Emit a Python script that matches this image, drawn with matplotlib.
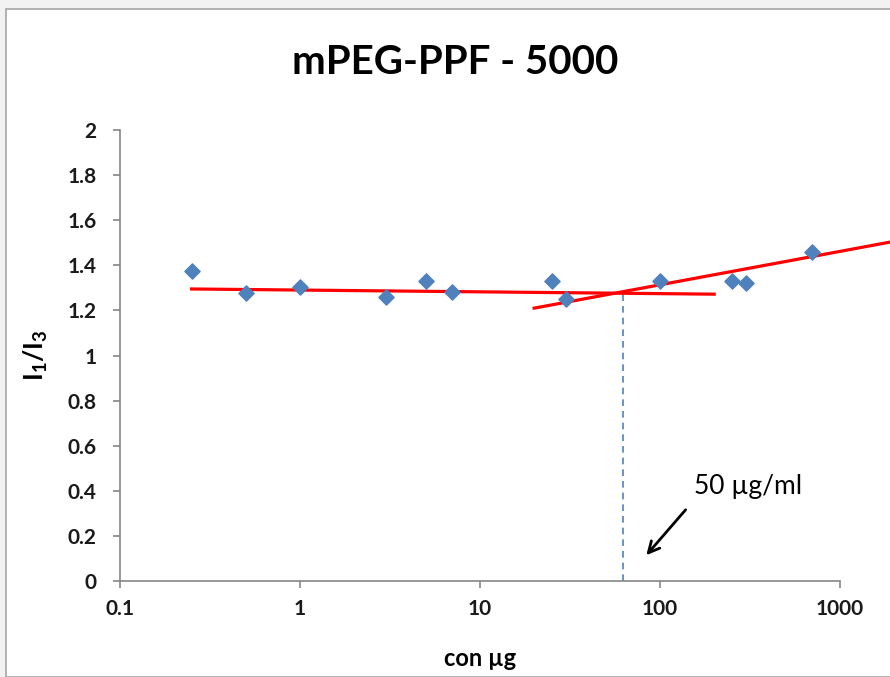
import matplotlib
matplotlib.use('Agg')
import matplotlib.pyplot as plt
from matplotlib.patches import Rectangle

plt.rcParams['font.family'] = ['Lato', 'DejaVu Sans']
plt.rcParams['mathtext.fontset'] = 'custom'
plt.rcParams['mathtext.bf'] = 'Lato:bold'
plt.rcParams['mathtext.rm'] = 'Lato:bold'

# measured points
conc = [0.25, 0.5, 1, 3, 5, 7, 25, 30, 100, 250, 300, 700]
ratio = [1.375, 1.277, 1.304, 1.26, 1.33, 1.28, 1.33, 1.25, 1.33, 1.33, 1.32, 1.46]

# hand drawn trend lines
flat_x = [0.25, 200]
flat_y = [1.295, 1.272]
rise_x = [20, 1900]
rise_y = [1.21, 1.503]

cmc = 62
cmc_y = 1.28
yticks = [0, 0.2, 0.4, 0.6, 0.8, 1, 1.2, 1.4, 1.6, 1.8, 2]
yticklabels = ['0', '0.2', '0.4', '0.6', '0.8', '1', '1.2', '1.4', '1.6', '1.8', '2']
xticks = [0.1, 1, 10, 100, 1000]
xticklabels = ['0.1', '1', '10', '100', '1000']

fig = plt.figure(figsize=(8.9, 6.77), dpi=100)
fig.patch.set_facecolor('#f2f2f2')
fig.add_artist(Rectangle((6 / 890, 0), 1, 1 - 9 / 677, transform=fig.transFigure,
                         facecolor='white', edgecolor='#a6a6a6', lw=1.2, zorder=0))

ax = fig.add_axes([120 / 890, 1 - 581 / 677, 720 / 890, 451 / 677])
ax.set_xscale('log')
ax.set_xlim(0.1, 1000)
ax.set_ylim(0, 2)

ax.plot(flat_x, flat_y, color='#ff0000', lw=2.3, clip_on=False, zorder=3)
ax.plot(rise_x, rise_y, color='#ff0000', lw=2.3, clip_on=False, zorder=3)
ax.scatter(conc, ratio, marker='D', s=60, color='#4f81bd', zorder=4, clip_on=False)
ax.plot([cmc, cmc], [0, cmc_y], color='#4f81bd', lw=1.2, ls=(0, (4, 3)), zorder=2)

ax.annotate('', xy=(82, 0.105), xytext=(142, 0.325),
            arrowprops=dict(arrowstyle='->', color='black', lw=2, mutation_scale=20))
ax.text(155, 0.42, '50 µg/ml', fontsize=19, va='center', ha='left')

for s in ['top', 'right']:
    ax.spines[s].set_visible(False)
for s in ['left', 'bottom']:
    ax.spines[s].set_color('#868686')
    ax.spines[s].set_linewidth(1.2)

ax.set_yticks(yticks)
ax.set_yticklabels(yticklabels)
ax.set_xticks(xticks)
ax.set_xticklabels(xticklabels)
ax.minorticks_off()
ax.tick_params(axis='both', colors='#868686', length=5, width=1.2, labelcolor='#1a1a1a',
               labelsize=15)
ax.tick_params(axis='x', pad=8)
ax.tick_params(axis='y', pad=12)
for lbl in ax.get_xticklabels() + ax.get_yticklabels():
    lbl.set_fontweight('bold')

ax.set_xlabel('con µg', fontsize=17, fontweight='bold', labelpad=20)
ax.set_ylabel(r'$\mathbf{I_1/I_3}$', fontsize=19, labelpad=12)

fig.text(455 / 890, 1 - 62 / 677, 'mPEG-PPF - 5000', fontsize=29, fontweight='bold',
         ha='center', va='center')

fig.savefig('out.png', dpi=100, facecolor=fig.get_facecolor())
